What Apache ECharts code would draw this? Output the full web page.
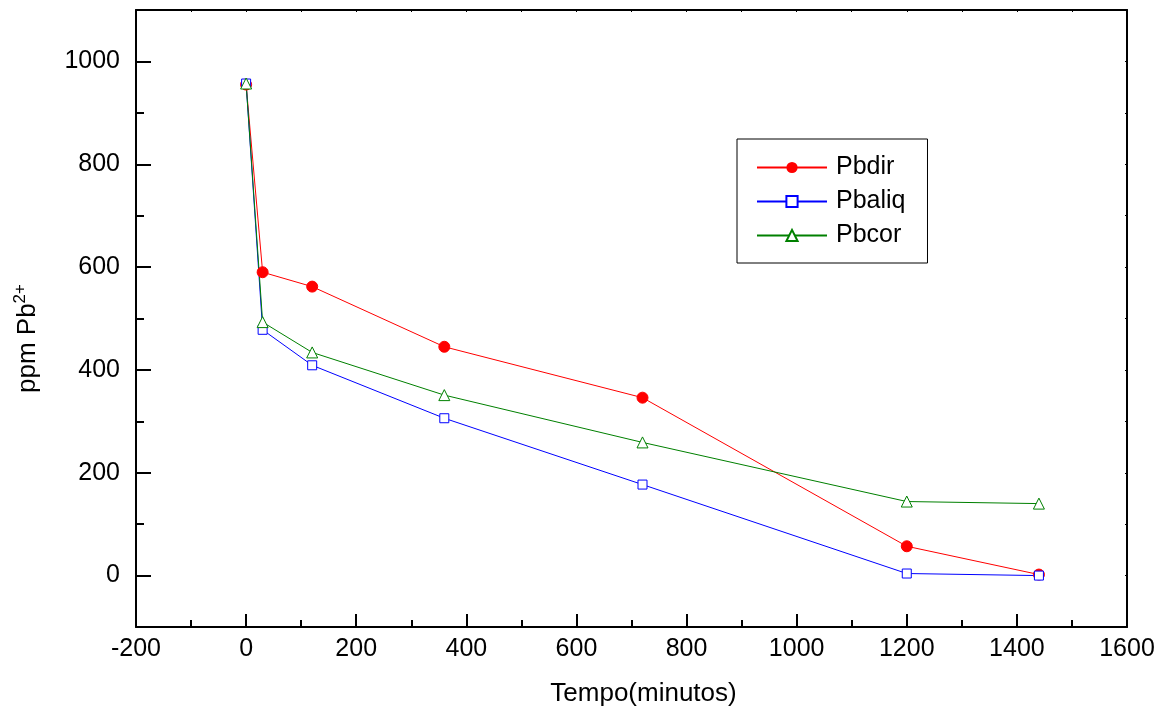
<!DOCTYPE html>
<html>
<head>
<meta charset="utf-8">
<script src="https://cdn.jsdelivr.net/npm/echarts@6/dist/echarts.min.js"></script>
<style>html,body{margin:0;padding:0;background:#fff}#c{width:1165px;height:715px}</style>
</head>
<body>
<div id="c"></div>
<script>
const tempo = [0, 30, 120, 360, 720, 1200, 1440];
const pbdir = [955, 590, 562, 445, 346, 57, 2];
const pbaliq = [957, 478, 409, 306, 177, 4, 0];
const pbcor = [957, 493, 434, 351, 259, 144, 140];
const yMajor = [0, 200, 400, 600, 800, 1000];
const yMinor = [100, 300, 500, 700, 900];
const names = ['Pbdir', 'Pbaliq', 'Pbcor'];

const font = 'Liberation Sans, Arial, sans-serif';
const chart = echarts.init(document.getElementById('c'));
const pair = arr => tempo.map((t, i) => [t, arr[i]]);
const plain = v => String(v);

chart.setOption({
  animation: false,
  backgroundColor: '#fff',
  grid: { left: 136, right: 38, top: 10, bottom: 88 },
  legend: {
    orient: 'vertical', left: 737, top: 139,
    padding: [16, 22, 15, 19],
    borderColor: '#000', borderWidth: 1,
    itemWidth: 70, itemHeight: 14, itemGap: 9,
    textStyle: { fontFamily: font, fontSize: 25, lineHeight: 25, color: '#000', padding: [0, 0, 0, 4] },
    data: names
  },
  xAxis: [{
    type: 'value', min: -200, max: 1600, interval: 200,
    name: 'Tempo(minutos)', nameLocation: 'middle', nameGap: 54,
    nameTextStyle: { fontFamily: font, fontSize: 26, color: '#000', padding: [0, 0, 0, 24] },
    axisLine: { onZero: false, lineStyle: { color: '#000', width: 2 } },
    axisTick: { inside: true, length: 13, lineStyle: { color: '#000', width: 2 } },
    minorTick: { show: true, splitNumber: 2, length: 7, lineStyle: { color: '#000', width: 2 } },
    axisLabel: { fontFamily: font, fontSize: 25, color: '#000', margin: 10, formatter: plain },
    splitLine: { show: false }
  }, {
    type: 'value', min: -200, max: 1600, interval: 200, position: 'top',
    axisLine: { onZero: false, lineStyle: { color: '#000', width: 2 } },
    axisTick: { inside: true, length: 2, lineStyle: { color: '#000' } },
    minorTick: { show: true, splitNumber: 2, length: 2, lineStyle: { color: '#000' } },
    axisLabel: { show: false }, splitLine: { show: false }
  }],
  yAxis: [{
    type: 'value', min: -100, max: 1100,
    name: '{a|ppm Pb}{b|2+}', nameLocation: 'middle', nameGap: 93,
    nameTextStyle: {
      fontFamily: font, color: '#000', padding: [0, 40, 0, 0],
      rich: {
        a: { fontFamily: font, fontSize: 26, color: '#000' },
        b: { fontFamily: font, fontSize: 17, color: '#000', padding: [0, 0, 14, 0] }
      }
    },
    axisLine: { onZero: false, lineStyle: { color: '#000', width: 2 } },
    axisTick: { inside: true, length: 15, customValues: yMajor, lineStyle: { color: '#000', width: 2 } },
    axisLabel: { fontFamily: font, fontSize: 25, color: '#000', margin: 16, customValues: yMajor, formatter: plain },
    splitLine: { show: false }
  }, {
    type: 'value', min: -100, max: 1100, position: 'left',
    axisLine: { show: false, onZero: false },
    axisTick: { inside: true, length: 8, customValues: yMinor, lineStyle: { color: '#000', width: 2 } },
    axisLabel: { show: false, customValues: yMinor },
    splitLine: { show: false }
  }, {
    type: 'value', min: -100, max: 1100, position: 'right',
    axisLine: { onZero: false, lineStyle: { color: '#000', width: 2 } },
    axisTick: { inside: true, length: 2, customValues: yMajor.concat(yMinor), lineStyle: { color: '#000' } },
    axisLabel: { show: false, customValues: yMajor.concat(yMinor) },
    splitLine: { show: false }
  }],
  series: [{
    name: names[0], type: 'line', data: pair(pbdir),
    symbol: 'circle', symbolSize: 11,
    lineStyle: { color: '#ff0000', width: 1 },
    itemStyle: { color: '#ff0000', borderColor: '#ff0000' }
  }, {
    name: names[1], type: 'line', data: pair(pbaliq),
    symbol: 'rect', symbolSize: 9,
    lineStyle: { color: '#0000ff', width: 1 },
    itemStyle: { color: '#fff', borderColor: '#0000ff', borderWidth: 1 }
  }, {
    name: names[2], type: 'line', data: pair(pbcor),
    symbol: 'triangle', symbolSize: 11,
    lineStyle: { color: '#008000', width: 1 },
    itemStyle: { color: '#fff', borderColor: '#008000', borderWidth: 1 }
  }]
});
</script>
</body>
</html>
